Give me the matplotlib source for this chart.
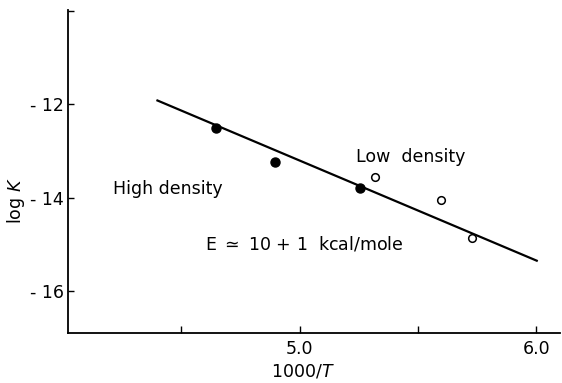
import matplotlib
matplotlib.use("Agg")
import matplotlib.pyplot as plt

# data
high_x = [4.647, 4.894, 5.254]
high_y = [-12.51, -13.23, -13.79]
low_x = [5.318, 5.597, 5.728]
low_y = [-13.56, -14.05, -14.86]
fit_x = [4.394, 6.007]
fit_y = [-11.91, -15.36]

xticks = [4.5, 5.0, 5.5, 6.0]
xticklabels = ["", "5.0", "", "6.0"]
yticks = [-10, -12, -14, -16]
yticklabels = ["", "- 12", "- 14", "- 16"]

plt.rcParams['font.family'] = ['DejaVu Sans']
fs = 12.5

fig = plt.figure(figsize=(5.62, 3.83), dpi=100)
ax = fig.add_axes([0.121, 0.1305, 0.875, 0.8435])

ax.plot(fit_x, fit_y, color="black", lw=1.6, solid_capstyle="butt")
ax.plot(high_x, high_y, "o", color="black", ms=6.5)
ax.plot(low_x, low_y, "o", mfc="white", mec="black", mew=1.1, ms=5.5)

ax.text(4.21, -13.82, "High density", fontsize=fs, va="center")
ax.text(5.237, -13.14, "Low  density", fontsize=fs, va="center")
ax.text(4.6, -15.0, "E $\\simeq$ 10 + 1  kcal/mole", fontsize=fs, va="center")

ax.set_xlim(4.02, 6.1)
ax.set_ylim(-16.9, -9.98)
ax.set_xticks(xticks)
ax.set_xticklabels(xticklabels, fontsize=fs)
ax.set_yticks(yticks)
ax.set_yticklabels(yticklabels, fontsize=fs)
ax.tick_params(axis="x", direction="in", length=5, width=1, pad=5)
ax.tick_params(axis="y", direction="in", length=4, width=1, pad=3)

ax.spines["top"].set_visible(False)
ax.spines["right"].set_visible(False)
ax.spines["left"].set_linewidth(1.3)
ax.spines["bottom"].set_linewidth(1.3)

ax.set_xlabel("1000/$T$", fontsize=fs)
ax.xaxis.set_label_coords(0.478, -0.09)
ax.set_ylabel("log $K$", fontsize=fs)
ax.yaxis.set_label_coords(-0.083, 0.41)

fig.savefig("out.png", dpi=100)
